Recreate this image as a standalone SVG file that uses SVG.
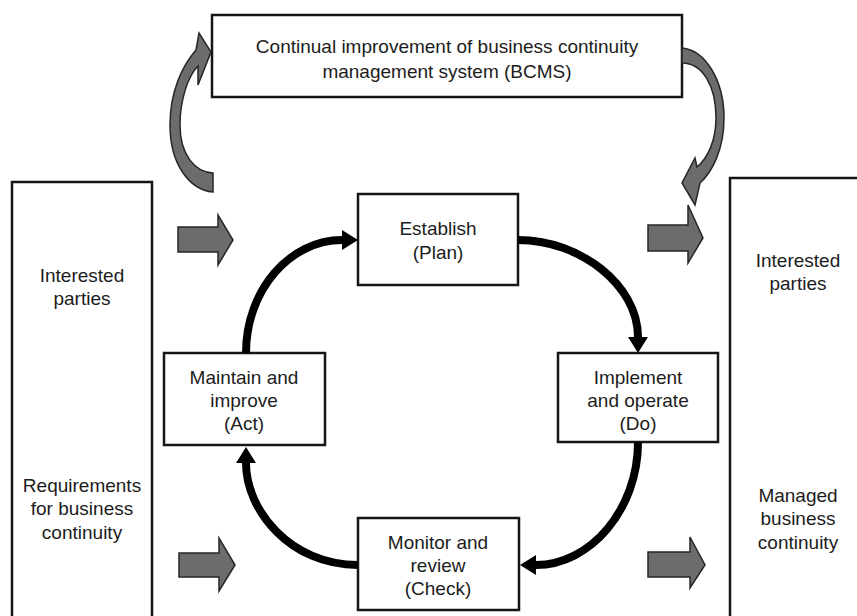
<svg xmlns="http://www.w3.org/2000/svg" width="857" height="616" viewBox="0 0 857 616">
<style>
.box{fill:#fff;stroke:#151515;stroke-width:2.5}
.t{font-family:"Liberation Sans",Arial,sans-serif;font-size:19px;fill:#1c1c1c;text-anchor:middle}
.blk{fill:#6c6c6c;stroke:#262626;stroke-width:1.5;stroke-linejoin:miter}
.cyc{fill:none;stroke:#000;stroke-width:8}
</style>
<defs>
<marker id="ah" markerUnits="userSpaceOnUse" markerWidth="18" markerHeight="20" refX="0" refY="10" orient="auto" overflow="visible">
<path d="M0,0 L16,10 L0,20 Z" fill="#000"/>
</marker>
</defs>
<rect width="857" height="616" fill="#fff"/>

<g id="n-improve">
<rect class="box" x="212" y="15" width="470" height="82"/>
<text class="t" x="447" y="53">Continual improvement of business continuity</text>
<text class="t" x="447" y="78">management system (BCMS)</text>
</g>

<g id="n-left">
<rect class="box" x="12" y="182" width="140" height="460"/>
<text class="t" x="82" y="282">Interested</text>
<text class="t" x="82" y="305">parties</text>
<text class="t" x="82" y="492">Requirements</text>
<text class="t" x="82" y="515">for business</text>
<text class="t" x="82" y="539">continuity</text>
</g>

<g id="n-right">
<rect class="box" x="730" y="178" width="160" height="460"/>
<text class="t" x="798" y="267">Interested</text>
<text class="t" x="798" y="290">parties</text>
<text class="t" x="798" y="502">Managed</text>
<text class="t" x="798" y="525">business</text>
<text class="t" x="798" y="549">continuity</text>
</g>

<g id="n-plan">
<rect class="box" x="358" y="194" width="160" height="91"/>
<text class="t" x="438" y="235">Establish</text>
<text class="t" x="438" y="259">(Plan)</text>
</g>

<g id="n-do">
<rect class="box" x="558" y="353" width="160" height="89"/>
<text class="t" x="638" y="384">Implement</text>
<text class="t" x="638" y="407">and operate</text>
<text class="t" x="638" y="430">(Do)</text>
</g>

<g id="n-check">
<rect class="box" x="358" y="518" width="161" height="92"/>
<text class="t" x="438" y="549">Monitor and</text>
<text class="t" x="438" y="572">review</text>
<text class="t" x="438" y="595">(Check)</text>
</g>

<g id="n-act">
<rect class="box" x="164" y="353" width="161" height="92"/>
<text class="t" x="244" y="384">Maintain and</text>
<text class="t" x="244" y="407">improve</text>
<text class="t" x="244" y="430">(Act)</text>
</g>

<g id="connectors">
<path class="cyc" d="M246,353 C246,290 290,240 342,240" marker-end="url(#ah)"/>
<path class="cyc" d="M518,240 C580,240 638,285 638,337" marker-end="url(#ah)"/>
<path class="cyc" d="M638,442 C638,510 590,565 536,565" marker-end="url(#ah)"/>
<path class="cyc" d="M358,565 C290,565 246,510 246,463" marker-end="url(#ah)"/>

<path class="blk" d="M213,173 L213,192 C190,190 170,165 170,125 C170,92 182,66 196,50 L199,33 L211,52 L198,85 L198,66 C188,76 180,100 180,125 C180,155 195,172 213,173 Z"/>
<path class="blk" d="M682,48 C705,50 724,80 724,118 C724,150 712,172 700,183 L695,205 L682,183 L695,158 L697,167 C708,158 716,140 716,118 C716,85 702,63 682,63 Z"/>

<path class="blk" d="M178,227 L218,227 L218,215 L233,240 L218,265 L218,252 L178,252 Z"/>
<path class="blk" d="M179,553 L219,553 L219,538 L235,565 L219,591 L219,577 L179,577 Z"/>
<path class="blk" d="M648,225 L688,225 L688,205 L703,238 L688,263 L688,251 L648,251 Z"/>
<path class="blk" d="M648,552 L690,552 L690,537 L705,565 L690,588 L690,577 L648,577 Z"/>
</g>
</svg>
